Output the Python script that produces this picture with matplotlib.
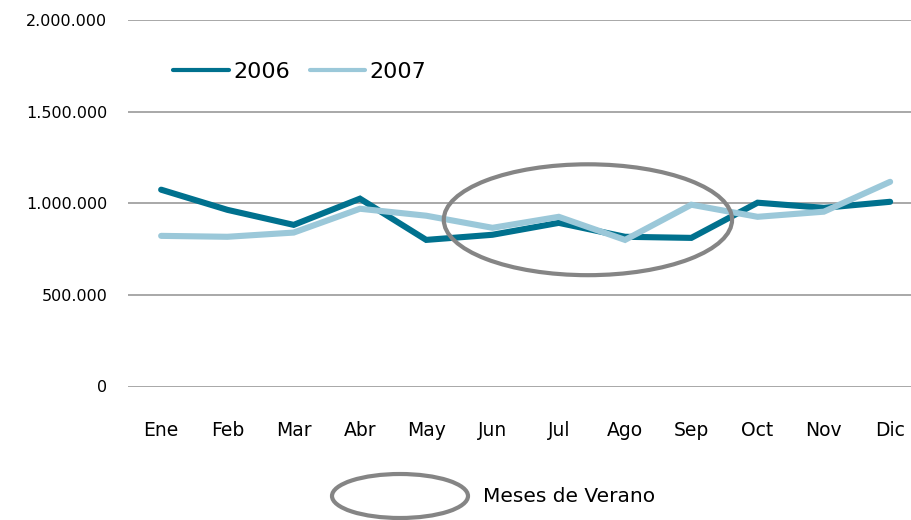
import matplotlib.pyplot as plt
from matplotlib.patches import Ellipse

meses = ["Ene", "Feb", "Mar", "Abr", "May", "Jun", "Jul", "Ago", "Sep", "Oct", "Nov", "Dic"]
v2006 = [1074000, 964000, 882000, 1025000, 800000, 828000, 893000, 817000, 811000, 1003000, 975000, 1008000]
v2007 = [822000, 817000, 840000, 970000, 932000, 866000, 926000, 800000, 992000, 926000, 954000, 1117000]
yticks = [0, 500000, 1000000, 1500000, 2000000]
ytick_labels = ["0", "500.000", "1.000.000", "1.500.000", "2.000.000"]

W, H = 912, 520
fig = plt.figure(figsize=(W / 100, H / 100), dpi=100)
ax = fig.add_axes([128 / W, 1 - 386.5 / H, (912 - 128) / W, (386.5 - 20) / H])

x = list(range(len(meses)))
ax.plot(x, v2006, color="#00718e", lw=4.4, solid_capstyle="round", solid_joinstyle="miter", label="2006", zorder=3)
ax.plot(x, v2007, color="#9bc8d9", lw=4.4, solid_capstyle="round", solid_joinstyle="miter", label="2007", zorder=4)

# circulo de los meses de verano
ax.add_patch(Ellipse((6.44, 910000), 4.35, 605000, fill=False, ec="#858585", lw=3, zorder=5))

ax.set_xlim(-0.5, 11.33)
ax.set_ylim(0, 2000000)
ax.set_yticks(yticks)
ax.set_yticklabels(ytick_labels, fontsize=11.5)
ax.set_xticks(x)
ax.set_xticklabels(meses, fontsize=13.5)
ax.tick_params(axis="y", length=0, pad=15)
ax.tick_params(axis="x", length=0, pad=25)
ax.grid(axis="y", color="#999999", lw=1.2)
for s in ax.spines.values():
    s.set_visible(False)
ax.set_axisbelow(True)

leg = ax.legend(loc="center left", bbox_to_anchor=((173 - 128) / 784, (386.5 - 72) / 366.5), ncol=2,
                frameon=False, fontsize=16, handlelength=2.5, handletextpad=0.2, columnspacing=0.9,
                borderpad=0, borderaxespad=0)
for h in leg.get_lines():
    h.set_linewidth(3)
    h.set_solid_capstyle("round")

# leyenda inferior
fig.add_artist(Ellipse((400 / W, 1 - 496 / H), 136 / W, 44 / H, transform=fig.transFigure,
                       fill=False, ec="#858585", lw=3))
fig.text(483 / W, 1 - 497 / H, "Meses de Verano", fontsize=14.5, va="center", ha="left")

plt.savefig("out.png", dpi=100, facecolor="white")
